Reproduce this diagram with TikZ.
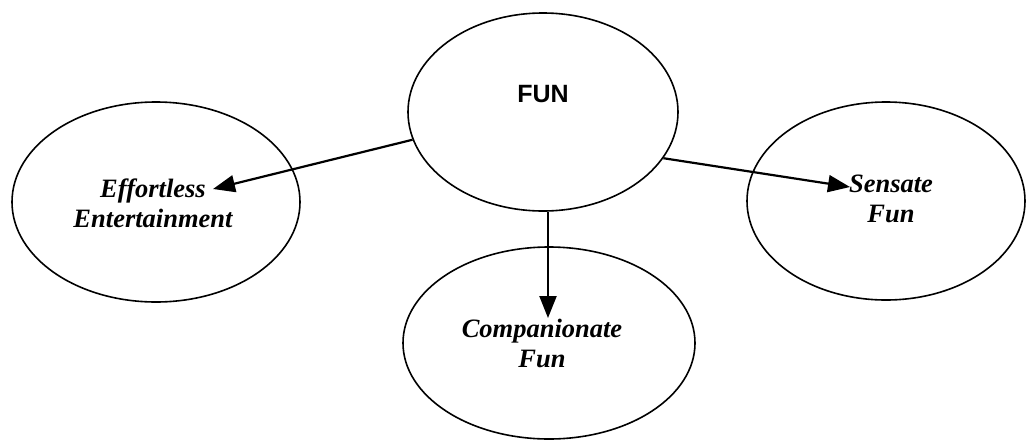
\documentclass[tikz,border=0pt]{standalone}
\usepackage{fontspec}
\setmainfont{Liberation Serif}
\newfontfamily\headfont{Liberation Sans}
\usetikzlibrary{shapes.geometric,arrows.meta}
\tikzset{
  bubble/.style={ellipse, draw, line width=1.6pt, inner sep=0pt},
  concept/.style={align=center, inner sep=0pt,
    font=\fontsize{26.5}{30}\selectfont\bfseries\itshape},
  rootlabel/.style={inner sep=0pt, font=\fontsize{25}{30}\selectfont\headfont\bfseries},
  link/.style={line width=2.2pt, -{Triangle[length=22pt, width=17pt]}}
}
\begin{document}
\begin{tikzpicture}[x=1pt, y=-1pt]
  \useasboundingbox (0,0) rectangle (1026,440);
  % the four ellipses
  \node[bubble, minimum width=270pt, minimum height=198pt] (fun)  at (543,112) {};
  \node[bubble, minimum width=288pt, minimum height=200pt] (eff)  at (156,202) {};
  \node[bubble, minimum width=278pt, minimum height=198pt] (sens) at (886,201) {};
  \node[bubble, minimum width=292pt, minimum height=192pt] (comp) at (549,343) {};
  % labels (base anchor = baseline of the last line)
  \node[rootlabel, anchor=base] (funtext) at (543,102) {FUN};
  \node[concept, anchor=base] (efftext)  at (153,227) {Effortless\\Entertainment};
  \node[concept, anchor=base] (senstext) at (891,222) {Sensate\\Fun};
  \node[concept, anchor=base] (comptext) at (542,367) {Companionate\\Fun};
  % arrow tips sit against the labels
  \coordinate (efftip)  at (213,189);
  \coordinate (senstip) at (850,187);
  \coordinate (comptip) at (548,318);
  % connectors
  \draw[link] (fun.192) -- (efftip);
  \draw[link] (fun.-21) -- (senstip);
  \draw[link] (fun.south -| comptip) -- (comptip);
\end{tikzpicture}
\end{document}
